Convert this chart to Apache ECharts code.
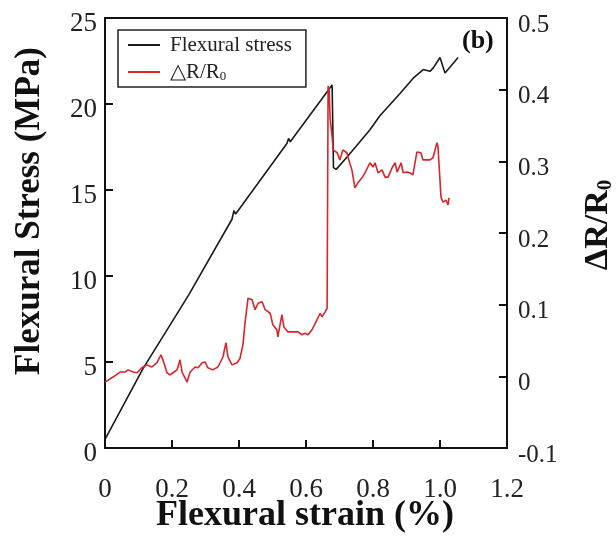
<!DOCTYPE html>
<html><head><meta charset="utf-8">
<script src="https://cdn.jsdelivr.net/npm/echarts@6/dist/echarts.min.js"></script>
<style>html,body{margin:0;padding:0;background:#fff}#c{width:616px;height:542px}</style>
</head><body><div id="c"></div>
<script>
const stressStrain = [0,0.113,0.25,0.379,0.385,0.39,0.543,0.548,0.553,0.678,0.682,0.69,0.722,0.791,0.82,0.88,0.92,0.95,0.97,0.98,1.0,1.015,1.054];
const stressValues = [0.5,4.6,8.9,13.3,13.8,13.6,17.7,18.0,17.8,21.1,16.3,16.2,16.9,18.5,19.3,20.6,21.5,22.0,21.9,22.1,22.7,21.8,22.7];
const resStrain = [0,0.024,0.045,0.060,0.069,0.084,0.096,0.110,0.125,0.140,0.155,0.167,0.173,0.185,0.194,0.203,0.215,0.224,0.230,0.245,0.254,0.269,0.278,0.290,0.299,0.307,0.322,0.337,0.352,0.361,0.367,0.379,0.394,0.403,0.412,0.418,0.427,0.439,0.448,0.457,0.469,0.478,0.493,0.501,0.513,0.516,0.528,0.534,0.546,0.561,0.576,0.588,0.597,0.606,0.618,0.633,0.642,0.648,0.657,0.663,0.666,0.669,0.672,0.678,0.681,0.693,0.701,0.710,0.722,0.725,0.737,0.746,0.755,0.767,0.776,0.791,0.800,0.806,0.815,0.827,0.836,0.845,0.857,0.866,0.872,0.884,0.890,0.901,0.910,0.919,0.931,0.943,0.949,0.970,0.979,0.991,0.994,1.003,1.009,1.018,1.024,1.027];
const resValues = [-0.008,-0.001,0.006,0.006,0.009,0.006,0.005,0.012,0.016,0.013,0.019,0.030,0.023,0.005,0.002,0.005,0.009,0.023,0.006,-0.008,0.006,0.013,0.012,0.019,0.020,0.012,0.009,0.013,0.027,0.047,0.027,0.016,0.019,0.025,0.045,0.075,0.109,0.107,0.093,0.102,0.104,0.093,0.088,0.072,0.065,0.055,0.086,0.069,0.062,0.062,0.062,0.058,0.060,0.058,0.065,0.079,0.088,0.083,0.090,0.095,0.405,0.40,0.36,0.334,0.316,0.312,0.302,0.316,0.312,0.306,0.288,0.263,0.270,0.277,0.284,0.298,0.292,0.298,0.284,0.288,0.278,0.278,0.291,0.298,0.285,0.298,0.284,0.285,0.284,0.281,0.313,0.312,0.302,0.302,0.305,0.326,0.320,0.250,0.243,0.246,0.239,0.249];
const xTicks = ['0','0.2','0.4','0.6','0.8','1.0','1.2'];
const seriesNames = ['Flexural stress', '△R/R0'];

const F = 'Liberation Serif';
const chart = echarts.init(document.getElementById('c'));
chart.setOption({
  animation: false,
  grid: {left: 105, top: 18, right: 109, bottom: 94, show: true, borderColor: '#111', borderWidth: 2, backgroundColor: 'transparent'},
  legend: {
    left: 118, top: 30, orient: 'vertical', itemWidth: 32, itemHeight: 2, itemGap: 5, icon: 'rect',
    padding: [4, 14, 4, 10], borderColor: '#222', borderWidth: 1.5, borderRadius: 0,
    data: seriesNames,
    formatter: function(n){ return n === seriesNames[1] ? '{a|△R/R}{s|0}' : '{a|' + n + '}'; },
    textStyle: {fontFamily: F, fontSize: 21, color: '#222', lineHeight: 22, padding: [0,0,0,5],
      rich: {a: {fontFamily: F, fontSize: 21, color: '#222', lineHeight: 22}, s: {fontFamily: F, fontSize: 13, color: '#222', verticalAlign: 'bottom', lineHeight: 22, padding: [8,0,0,0]}}}
  },
  xAxis: {
    type: 'value', min: 0, max: 1.2, interval: 0.2,
    axisLine: {show: true, lineStyle: {color: '#111', width: 2}},
    axisTick: {inside: true, length: 8, lineStyle: {color: '#111', width: 2}},
    splitLine: {show: false},
    axisLabel: {margin: 28, fontFamily: F, fontSize: 27, color: '#222', formatter: function(v){ return xTicks[Math.round(v/0.2)]; }}
  },
  yAxis: [{
    type: 'value', min: 0, max: 25, interval: 5,
    axisLine: {show: true, lineStyle: {color: '#111', width: 2}},
    axisTick: {show: true, inside: true, length: 8, lineStyle: {color: '#111', width: 2}},
    splitLine: {show: false},
    axisLabel: {margin: 8, formatter: function(v){ return '{v|' + v + '}'; },
      rich: {v: {fontFamily: F, fontSize: 27, color: '#222', padding: [12,0,0,0]}}}
  }, {
    type: 'value', min: -0.1, max: 0.5, interval: 0.1, position: 'right',
    axisLine: {show: true, lineStyle: {color: '#111', width: 2}},
    axisTick: {show: true, inside: true, length: 8, lineStyle: {color: '#111', width: 2}},
    splitLine: {show: false},
    axisLabel: {margin: 11, formatter: function(v){ return '{v|' + String(Math.round(v*10)/10) + '}'; },
      rich: {v: {fontFamily: F, fontSize: 25, color: '#222', padding: [14,0,0,0]}}}
  }],
  graphic: [
    {type: 'text', left: 462, top: 28, style: {text: '(b)', font: 'bold 26px "Liberation Serif"', fill: '#111'}},
    {type: 'text', x: 30, y: 211, rotation: Math.PI/2, style: {text: 'Flexural Stress (MPa)', font: 'bold 35px "Liberation Serif"', fill: '#111', align: 'center', verticalAlign: 'middle'}},
    {type: 'text', x: 305, y: 516, style: {text: 'Flexural strain (%)', font: 'bold 36px "Liberation Serif"', fill: '#111', align: 'center', verticalAlign: 'middle'}},
    {type: 'text', x: 598, y: 225, rotation: Math.PI/2, style: {text: '{a|ΔR/R}{s|0}', fill: '#111', align: 'center', verticalAlign: 'middle',
      rich: {a: {font: 'bold 34px "Liberation Serif"', fill: '#111'}, s: {font: 'bold 21px "Liberation Serif"', fill: '#111', padding: [15,0,0,0]}}}}
  ],
  series: [{
    name: seriesNames[0], type: 'line', xAxisIndex: 0, yAxisIndex: 0, symbol: 'none',
    lineStyle: {color: '#1a1a1a', width: 1.6}, itemStyle: {color: '#1a1a1a'},
    data: stressStrain.map(function(x, i){ return [x, stressValues[i]]; })
  }, {
    name: seriesNames[1], type: 'line', xAxisIndex: 0, yAxisIndex: 1, symbol: 'none',
    lineStyle: {color: '#d9252b', width: 1.6}, itemStyle: {color: '#d9252b'},
    data: resStrain.map(function(x, i){ return [x, resValues[i]]; })
  }]
});
</script></body></html>
